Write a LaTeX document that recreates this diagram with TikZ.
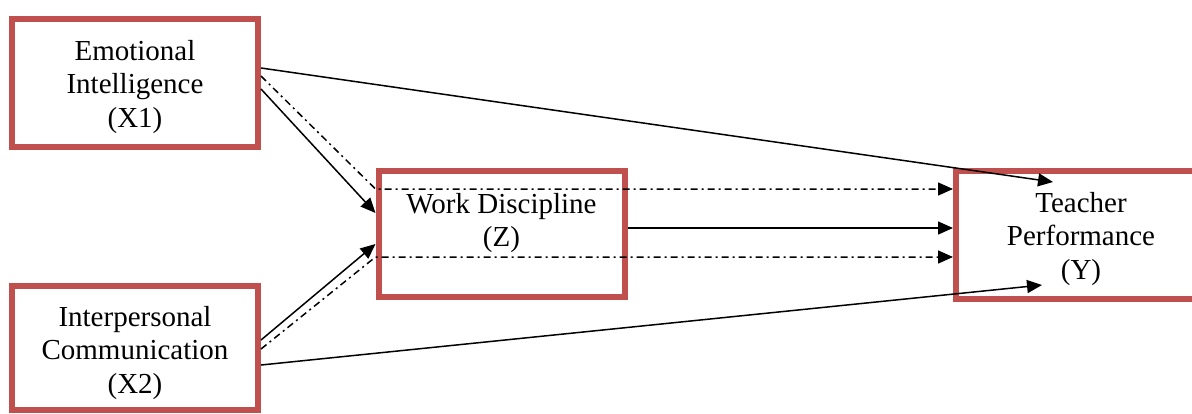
\documentclass[tikz,border=0pt]{standalone}
\usepackage{fontspec}
\setmainfont{Liberation Serif}
\usetikzlibrary{arrows.meta}
\definecolor{boxred}{HTML}{C0504D}

\begin{document}
\begin{tikzpicture}[
    x=0.5pt, y=-0.5pt,
    box/.style={draw=boxred, line width=3pt, minimum width=123pt, minimum height=64pt, inner sep=0pt},
    txt/.style={align=center, font=\fontsize{14.5}{16.8}\selectfont},
    link/.style={line width=0.75pt, -{Triangle[length=7.5pt,width=6.5pt]}},
    dashdot/.style={link, dash pattern=on 3.5pt off 2pt on 1pt off 2pt}
  ]
    \useasboundingbox (0,0) rectangle (1192,413);
    \node[box] (x1) at (135,83) {};
    \node[txt] (x1label) at ([yshift=-2pt]x1.center) {Emotional\\Intelligence\\(X1)};
    \node[box, minimum height=62pt] (x2) at (135,348) {};
    \node[txt] (x2label) at ([yshift=-2.5pt]x2.center) {Interpersonal\\Communication\\(X2)};
    \node[box, minimum height=63pt] (z) at (501.5,234) {};
    \node[txt] (zlabel) at ([yshift=5.5pt]z.center) {Work Discipline\\(Z)};
    \node[box] (y) at (1079,235) {};
    \node[txt] (ylabel) at ([xshift=1pt, yshift=-2pt]y.center) {Teacher\\Performance\\(Y)};
    % direct paths
    \draw[link] ([yshift=7.5pt]x1.east) -- ([xshift=-13pt, yshift=26.5pt]y.center);
    \draw[link] ([yshift=-8.5pt]x2.east) -- ([xshift=-18.5pt, yshift=-25pt]y.center);
    \draw[link] ([yshift=-3pt]x1.east) -- ([yshift=10.5pt]z.west);
    \draw[link] ([yshift=4pt]x2.east) -- ([yshift=-5pt]z.west);
    \draw[link] ([yshift=3pt]z.east) -- ([yshift=3.5pt]y.west);
    % indirect paths through Z
    \draw[dashdot] ([yshift=3.5pt]x1.east) -- ([yshift=22.5pt]z.west) -- ([yshift=23pt]y.west);
    \draw[dashdot] ([yshift=-0.5pt]x2.east) -- ([yshift=-11.5pt]z.west) -- ([yshift=-11pt]y.west);
  \end{tikzpicture}
\end{document}
